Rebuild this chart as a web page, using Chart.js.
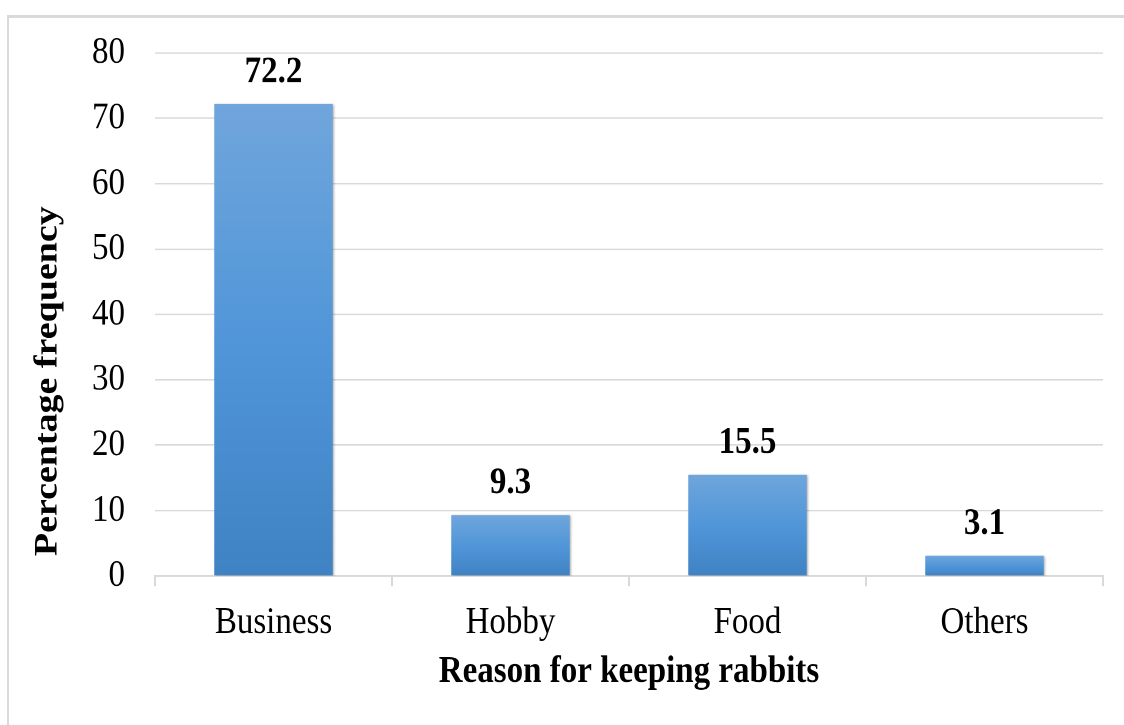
<!DOCTYPE html>
<html>
<head>
<meta charset="utf-8">
<script src="https://cdn.jsdelivr.net/npm/chart.js@4/dist/chart.umd.min.js"></script>
<style>
    html, body { margin: 0; padding: 0; background: #fff; overflow: hidden; }
    .wrap { position: relative; width: 1124px; height: 725px; overflow: hidden; }
    .frame {
        position: absolute; left: 7px; top: 15px; width: 1300px; height: 900px;
        border-left: 2px solid #d9d9d9; border-top: 3px solid #d9d9d9;
    }
    /* the figure is drawn at 1124x630 and stretched vertically */
    #reasonChart {
        position: absolute; left: 0; top: 0;
        transform-origin: 0 0;
        transform: scaleY(1.1508);
    }
</style>
</head>
<body>
<div class="wrap">
    <div class="frame"></div>
    <canvas id="reasonChart"></canvas>
</div>
<script>
const reasons = ['Business', 'Hobby', 'Food', 'Others'];
const percentages = [72.2, 9.3, 15.5, 3.1];
const yTicks = [0, 10, 20, 30, 40, 50, 60, 70, 80];

const serif = '"Liberation Serif", "Times New Roman", serif';
const gridGray = '#d9d9d9';

const canvas = document.getElementById('reasonChart');
canvas.width = 1124;
canvas.height = 630;

// vertical gradient on each bar, light at the top and darker at the base
function barGradient(context) {
    const chart = context.chart;
    if (!chart.chartArea) return '#5196d9';
    const y = chart.scales.y;
    const top = y.getPixelForValue(context.dataset.data[context.dataIndex]);
    const base = y.getPixelForValue(0);
    const g = chart.ctx.createLinearGradient(0, top, 0, base);
    g.addColorStop(0, '#70a6dc');
    g.addColorStop(0.5, '#5196d9');
    g.addColorStop(1, '#3f83c4');
    return g;
}

// soft shadow behind bars
const barShadow = {
    id: 'barShadow',
    beforeDatasetsDraw(chart) {
        const ctx = chart.ctx;
        ctx.save();
        ctx.shadowColor = 'rgba(0, 0, 0, 0.3)';
        ctx.shadowBlur = 4;
        ctx.shadowOffsetX = 2;
        ctx.shadowOffsetY = 1;
    },
    afterDatasetsDraw(chart) {
        chart.ctx.restore();
    }
};

// value printed above each bar
const valueLabels = {
    id: 'valueLabels',
    afterDatasetsDraw(chart) {
        const ctx = chart.ctx;
        const meta = chart.getDatasetMeta(0);
        ctx.save();
        ctx.font = 'bold 33px ' + serif;
        ctx.fillStyle = '#000';
        ctx.textAlign = 'center';
        ctx.textBaseline = 'alphabetic';
        meta.data.forEach((bar, i) => {
            ctx.fillText(percentages[i].toFixed(1), bar.x, bar.y - 19);
        });
        ctx.restore();
    }
};

// y axis title, sitting a little below the middle of the axis
const yTitle = {
    id: 'yTitle',
    afterDraw(chart) {
        const ctx = chart.ctx;
        const area = chart.chartArea;
        ctx.save();
        ctx.translate(48, (area.top + area.bottom) / 2 + 58);
        ctx.rotate(-Math.PI / 2);
        ctx.font = 'bold 33px ' + serif;
        ctx.fillStyle = '#000';
        ctx.textAlign = 'center';
        ctx.textBaseline = 'middle';
        ctx.fillText('Percentage frequency', 0, 0);
        ctx.restore();
    }
};

new Chart(canvas, {
    type: 'bar',
    data: {
        labels: reasons,
        datasets: [{
            data: percentages,
            backgroundColor: barGradient,
            borderWidth: 0,
            barPercentage: 0.5,
            categoryPercentage: 1
        }]
    },
    options: {
        responsive: false,
        animation: false,
        devicePixelRatio: 2,
        layout: { padding: { left: 10, right: 21, top: 46, bottom: 0 } },
        plugins: {
            legend: { display: false },
            tooltip: { enabled: false }
        },
        scales: {
            x: {
                grid: {
                    drawOnChartArea: false,
                    drawTicks: true,
                    tickLength: 9,
                    color: gridGray,
                    lineWidth: 2
                },
                border: { display: true, color: gridGray, width: 1.8 },
                ticks: {
                    color: '#000',
                    padding: 12,
                    font: { family: serif, size: 33 }
                },
                title: {
                    display: true,
                    text: 'Reason for keeping rabbits',
                    color: '#000',
                    padding: { top: 0, bottom: 26 },
                    font: { family: serif, size: 33, weight: 'bold' }
                },
                afterFit(scale) { scale.height = 129.5; }
            },
            y: {
                min: 0,
                max: 80,
                afterBuildTicks(scale) {
                    scale.ticks = yTicks.map(v => ({ value: v }));
                },
                grid: {
                    drawTicks: false,
                    color: gridGray,
                    lineWidth: 1.3
                },
                border: { display: false },
                ticks: {
                    color: '#000',
                    padding: 30,
                    font: { family: serif, size: 33 }
                },
                afterFit(scale) {
                    scale.width = 145;
                    // the label padding should not push the plot area down
                    scale.paddingTop = 20;
                }
            }
        }
    },
    plugins: [barShadow, valueLabels, yTitle]
});
</script>
</body>
</html>
